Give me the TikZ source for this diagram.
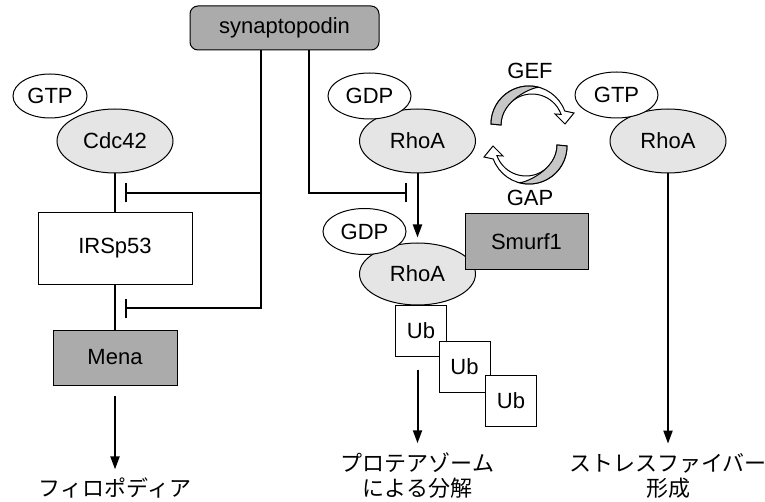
\documentclass[tikz,border=0pt]{standalone}
\usepackage{fontspec}
\setmainfont{Liberation Sans}
\newfontfamily\jpfont{Noto Sans CJK JP}
\usetikzlibrary{shapes.geometric, arrows.meta}

\tikzset{
  prot/.style={ellipse, draw, fill=black!10, line width=0.5pt, minimum width=58pt, minimum height=32pt, inner sep=0pt},
  nucl/.style={ellipse, draw, fill=white, line width=0.5pt, minimum width=41.5pt, minimum height=23pt, inner sep=0pt},
  darkbox/.style={draw, fill=black!33, line width=0.5pt, minimum width=61.5pt, minimum height=27.5pt},
  ubbox/.style={draw, fill=white, line width=0.5pt, minimum size=25.5pt, inner sep=0pt},
  result/.style={font=\jpfont\fontsize{11}{12.5}\selectfont, align=center, inner sep=0pt},
  act/.style={-{Triangle[length=6.5pt, width=4.5pt]}, line width=1pt},
  inh/.style={-{Bar[width=9.5pt]}, line width=1pt},
  ribbon/.pic={
    \filldraw[fill=white, line width=0.5pt] (0,0) ++(180:38) arc[start angle=180, end angle=340, radius=38]
      -- (45,-11) -- (36,0) -- (26,-10) -- (32.1,-9.6) arc[start angle=340, end angle=180, radius=31] -- cycle;
    \filldraw[fill=black!22, line width=0.5pt] (0,0) ++(180:38) arc[start angle=180, end angle=285, radius=38]
      .. controls (4,-37) and (-28,-24) .. (-28,1) -- cycle;
  }
}

\begin{document}
\begin{tikzpicture}[x=0.5pt, y=-0.5pt, font=\fontsize{11}{12.5}\selectfont]
  \useasboundingbox (0,0) rectangle (765,502);

  \node[draw, fill=black!33, rounded corners=4pt, line width=0.5pt, minimum width=94.5pt, minimum height=22pt] (syn) at (284.5,28) {synaptopodin};

  % Cdc42 branch
  \node[prot] (cdc) at (115,141) {Cdc42};
  \node[nucl, minimum width=37pt, minimum height=22pt] (gtpL) at (50,96) {GTP};
  \node[draw, fill=white, line width=0.5pt, minimum width=77pt, minimum height=35.5pt] (irs) at (115,248.5) {IRSp53};
  \node[darkbox, minimum width=62pt] (mena) at (115,357.5) {Mena};
  \node[result] (filo) at (115,488) {フィロポディア};

  % RhoA, GDP form
  \node[prot] (rhoT) at (417.5,141) {RhoA};
  \node[nucl] (gdpT) at (369.5,96) {GDP};
  \node[prot, minimum height=31pt] (rhoB) at (417.5,274) {RhoA};
  \node[nucl] (gdpB) at (364.5,231.5) {GDP};
  \node[darkbox] (smurf) at (526.5,241.5) {Smurf1};
  \node[ubbox] (ub1) at (421,330.5) {Ub};
  \node[ubbox] (ub2) at (464.5,366.5) {Ub};
  \node[ubbox] (ub3) at (511,400.5) {Ub};
  \node[result] (deg) at (417.5,475.5) {プロテアゾーム\\による分解};

  % RhoA, GTP form
  \node[prot] (rhoR) at (668,141) {RhoA};
  \node[nucl] (gtpR) at (616.5,95) {GTP};
  \node[result] (fiber) at (668,475.5) {ストレスファイバー\\形成};

  % GEF / GAP cycle
  \node (gef) at (530,71) {GEF};
  \node (gap) at (530,198) {GAP};
  \pic at (529,124) {ribbon};
  \pic[rotate=180] at (529,146) {ribbon};

  \draw[line width=1pt] (cdc) -- (irs);
  \draw[line width=1pt] (irs) -- (mena);
  \draw[act, shorten <=5pt, shorten >=4pt] (mena) -- (filo);
  \draw[act, shorten >=2.5pt] (rhoT) -- (rhoB);
  \draw[act, shorten <=6.5pt, shorten >=4.5pt] (ub1.south -| deg) -- (deg);
  \draw[act, shorten >=4.5pt] (rhoR) -- (fiber);

  % inhibition by synaptopodin
  \coordinate (t1) at (261,193);
  \coordinate (t2) at (261,308);
  \coordinate (t3) at (309,193);
  \coordinate (b1) at (125,193);
  \coordinate (b2) at (125,308);
  \coordinate (b3) at (407,193);
  \draw[inh] (syn.south -| t2) -- (t2) -- (b2);
  \draw[inh] (t1) -- (b1);
  \draw[inh] (syn.south -| t3) -- (t3) -- (b3);
\end{tikzpicture}
\end{document}
